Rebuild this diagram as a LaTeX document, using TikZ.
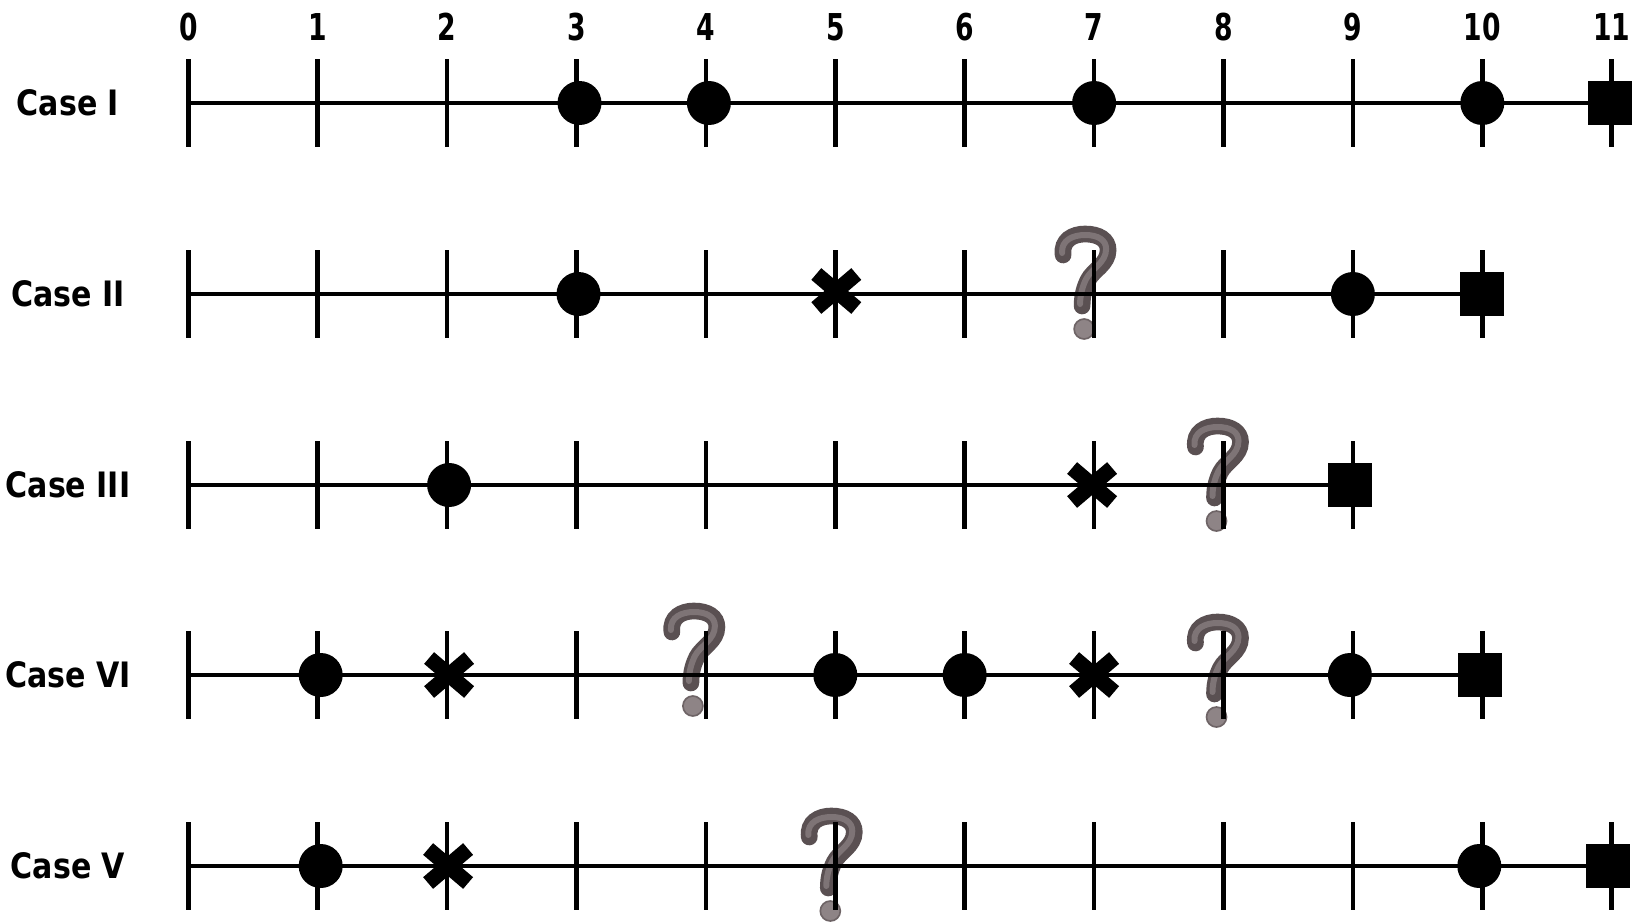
\documentclass[tikz,border=0pt]{standalone}
\usepackage{fontspec}
\setmainfont{DejaVu Sans}
\definecolor{qdark}{HTML}{5A5052}
\definecolor{qmid}{HTML}{7E7476}
\definecolor{qdot}{HTML}{8E8486}
\definecolor{qdotedge}{HTML}{6E6466}
\begin{document}
\begin{tikzpicture}[x=0.3pt,y=-0.3pt]
\useasboundingbox (0,0) rectangle (1648,922);
\tikzset{
  axisline/.style={line width=1.25pt},
  tickline/.style={line width=1.35pt},
  dotmark/.style={circle,fill=black,minimum size=13.2pt,inner sep=0pt},
  sqmark/.style={rectangle,fill=black,minimum size=13.2pt,inner sep=0pt},
  caselabel/.style={font=\bfseries\fontsize{10.5}{12}\selectfont,inner sep=0pt},
  numlabel/.style={font=\bfseries\fontsize{11.1}{12}\selectfont,inner sep=0pt},
  xmark/.pic={
    \draw[line width=4.6pt] (-20,-17) -- (20,17);
    \draw[line width=4.6pt] (-20,17) -- (20,-17);
  },
  qmark/.pic={
    \draw[qdark,line width=5pt,line cap=round]
      (-22,-27) .. controls (-24,-42) and (-12,-48) .. (0,-48)
      .. controls (14,-48) and (23,-42) .. (23,-32)
      .. controls (23,-18) and (8,-12) .. (3,-2)
      .. controls (0,4) and (-3,12) .. (-3,24);
    \draw[qmid,line width=1.8pt,line cap=round]
      (-23,-29) .. controls (-24,-42) and (-12,-47) .. (0,-47)
      .. controls (13,-47) and (21,-42) .. (21,-33)
      .. controls (21,-19) and (6,-13) .. (1,-3)
      .. controls (-2,3) and (-5,12) .. (-5,22);
    \fill[qdot,draw=qdotedge,line width=0.5pt] (-1,47) circle (3pt);
  }
}
\def\tx#1{188.3+129.4*#1}
% numbers
\foreach \n in {0,...,11}{
  \node[numlabel] (n\n) at ({\tx{\n}},27) {\scalebox{0.72}[1]{\n}};
}
% case labels
\node[caselabel] (c1) at (68,103) {\scalebox{0.86}[1]{Case I}};
\node[caselabel] (c2) at (68,294) {\scalebox{0.86}[1]{Case II}};
\node[caselabel] (c3) at (68,485) {\scalebox{0.86}[1]{Case III}};
\node[caselabel] (c4) at (68,675) {\scalebox{0.86}[1]{Case VI}};
\node[caselabel] (c5) at (68,866) {\scalebox{0.86}[1]{Case V}};
% question marks (under the lines)
\pic (q2) at ({\tx{7}-9},{294-12}) {qmark};
\pic (q3) at ({\tx{8}-6},{485-11}) {qmark};
\pic (q4a) at ({\tx{4}-12},{675-16}) {qmark};
\pic (q4b) at ({\tx{8}-6},{675-5}) {qmark};
\pic (q5) at ({\tx{5}-4},{866-2}) {qmark};
% axes
\foreach \r/\y/\last in {1/103/11,2/294/10,3/485/9,4/675/10,5/866/11}{
  \coordinate (s\r) at ({\tx{0}},\y);
  \coordinate (e\r) at ({\tx{\last}},\y);
  \draw[axisline] (s\r) -- (e\r);
  \foreach \k in {0,...,\last}{
    \draw[tickline] ({\tx{\k}},{\y-44}) -- ({\tx{\k}},{\y+44});
  }
}
% Case I
\node[dotmark] (a3) at ({\tx{3}+3},103) {};
\node[dotmark] (a4) at ({\tx{4}+3},103) {};
\node[dotmark] (a7) at ({\tx{7}},103) {};
\node[dotmark] (a10) at ({\tx{10}},103) {};
\node[sqmark] (a11) at ({\tx{11}-2},103) {};
% Case II
\node[dotmark] (b3) at ({\tx{3}+2},294) {};
\pic (bx5) at ({\tx{5}+1},{294-3}) {xmark};
\node[dotmark] (b9) at ({\tx{9}},294) {};
\node[sqmark] (b10) at ({\tx{10}},294) {};
% Case III
\node[dotmark] (d2) at ({\tx{2}+2},485) {};
\pic (dx7) at ({\tx{7}-2},485) {xmark};
\node[sqmark] (d9) at ({\tx{9}-3},485) {};
% Case VI
\node[dotmark] (f1) at ({\tx{1}+3},675) {};
\pic (fx2) at ({\tx{2}+2},675) {xmark};
\node[dotmark] (f5) at ({\tx{5}},675) {};
\node[dotmark] (f6) at ({\tx{6}},675) {};
\pic (fx7) at ({\tx{7}},675) {xmark};
\node[dotmark] (f9) at ({\tx{9}-3},675) {};
\node[sqmark] (f10) at ({\tx{10}-2},675) {};
% Case V
\node[dotmark] (g1) at ({\tx{1}+3},866) {};
\pic (gx2) at ({\tx{2}+1},866) {xmark};
\node[dotmark] (g10) at ({\tx{10}-3},866) {};
\node[sqmark] (g11) at ({\tx{11}-4},866) {};
\end{tikzpicture}
\end{document}
